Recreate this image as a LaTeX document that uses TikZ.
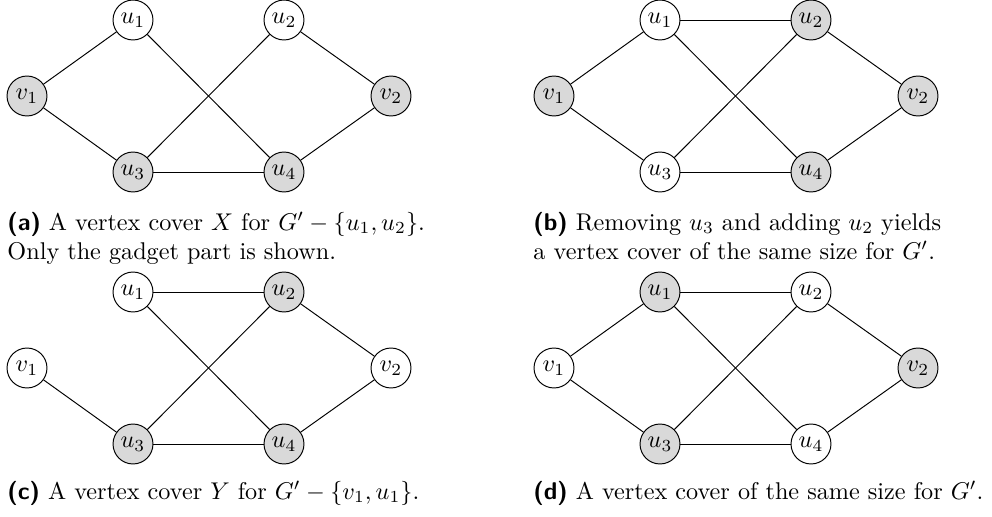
\documentclass[tikz,border=0pt]{standalone}
\usepackage{amsmath,amssymb}
\usepackage{tikz}
\usetikzlibrary{positioning}

\begin{document}
\begin{tikzpicture}[x=0.413pt, y=-0.413pt,
  vtx/.style={circle, draw, thin, fill=white, minimum size=16.5pt, inner sep=0pt},
  cov/.style={vtx, fill=black!15},
  captxt/.style={anchor=base west, inner sep=0pt}]
\useasboundingbox (0,0) rectangle (992,516);

% (a) vertex cover X
\node[cov] (av1) at (27,96) {$v_1$};
\node[vtx] (au1) at (133,20) {$u_1$};
\node[vtx] (au2) at (284,20) {$u_2$};
\node[cov] (av2) at (391,96) {$v_2$};
\node[cov] (au3) at (133,172) {$u_3$};
\node[cov] (au4) at (284,172) {$u_4$};
\foreach \s/\t in {v1/u1,v1/u3,u1/u4,u2/u3,u2/v2,u3/u4,u4/v2}
  \draw (a\s) -- (a\t);
\node[captxt] (capa) at (7,230) {\textsf{\textbf{(a)}} A vertex cover $X$ for $G'-\{u_1,u_2\}$.};
\node[captxt] (capa2) at (7,259) {Only the gadget part is shown.};

% (b) swap u3 for u2
\node[cov] (bv1) at (554,96) {$v_1$};
\node[vtx] (bu1) at (660,20) {$u_1$};
\node[cov] (bu2) at (811,20) {$u_2$};
\node[cov] (bv2) at (918,96) {$v_2$};
\node[vtx] (bu3) at (660,172) {$u_3$};
\node[cov] (bu4) at (811,172) {$u_4$};
\foreach \s/\t in {v1/u1,v1/u3,u1/u2,u1/u4,u2/u3,u2/v2,u3/u4,u4/v2}
  \draw (b\s) -- (b\t);
\node[captxt] (capb) at (533,230) {\textsf{\textbf{(b)}} Removing $u_3$ and adding $u_2$ yields};
\node[captxt] (capb2) at (533,259) {a vertex cover of the same size for $G'$.};

% (c) vertex cover Y
\node[vtx] (cv1) at (27,368) {$v_1$};
\node[vtx] (cu1) at (133,292) {$u_1$};
\node[cov] (cu2) at (284,292) {$u_2$};
\node[vtx] (cv2) at (391,368) {$v_2$};
\node[cov] (cu3) at (133,444) {$u_3$};
\node[cov] (cu4) at (284,444) {$u_4$};
\foreach \s/\t in {v1/u3,u1/u2,u1/u4,u2/u3,u2/v2,u3/u4,u4/v2}
  \draw (c\s) -- (c\t);
\node[captxt] (capc) at (7,499) {\textsf{\textbf{(c)}} A vertex cover $Y$ for $G'-\{v_1,u_1\}$.};

% (d) same size
\node[vtx] (dv1) at (554,368) {$v_1$};
\node[cov] (du1) at (660,292) {$u_1$};
\node[vtx] (du2) at (811,292) {$u_2$};
\node[cov] (dv2) at (918,368) {$v_2$};
\node[cov] (du3) at (660,444) {$u_3$};
\node[vtx] (du4) at (811,444) {$u_4$};
\foreach \s/\t in {v1/u1,v1/u3,u1/u2,u1/u4,u2/u3,u2/v2,u3/u4,u4/v2}
  \draw (d\s) -- (d\t);
\node[captxt] (capd) at (533,499) {\textsf{\textbf{(d)}} A vertex cover of the same size for $G'$.};
\end{tikzpicture}
\end{document}
